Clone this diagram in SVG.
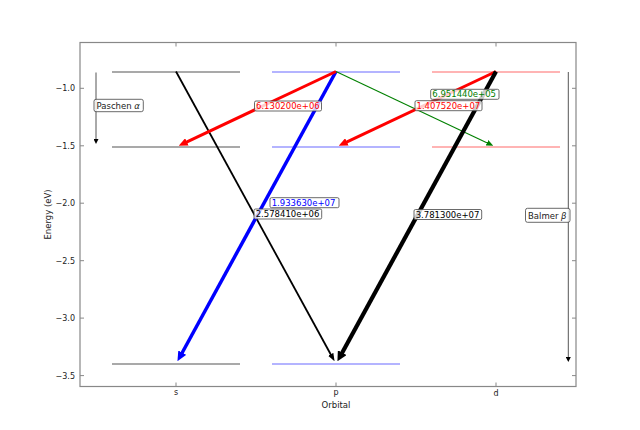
<svg xmlns="http://www.w3.org/2000/svg" width="640" height="430" viewBox="0 0 640 430">
<style>
text{font-family:"DejaVu Sans","Liberation Sans",sans-serif;fill:#222}
.tick{font-size:8px}
.axlab{font-size:8.5px}
.lab{font-size:8.5px}
.spine{fill:none;stroke:#888;stroke-width:1.2}
.tk{stroke:#888;stroke-width:1}
.ls{stroke:#555;stroke-width:1.2}
.lp{stroke:#6a6aff;stroke-width:1.2}
.ld{stroke:#ff6a6a;stroke-width:1.2}
.box{fill:#fff;fill-opacity:0.8;stroke:#444;stroke-width:0.8}
</style>
<defs>
<marker id="hBK" markerUnits="userSpaceOnUse" markerWidth="10" markerHeight="10" viewBox="0 -5 10 10" refX="1" refY="0" orient="auto"><path d="M0,-5L10,0L0,5Z" fill="#000"/></marker>
<marker id="hBL" markerUnits="userSpaceOnUse" markerWidth="10" markerHeight="9" viewBox="0 -4.5 10 9" refX="1" refY="0" orient="auto"><path d="M0,-4.5L10,0L0,4.5Z" fill="#0000ff"/></marker>
<marker id="hR" markerUnits="userSpaceOnUse" markerWidth="9" markerHeight="8" viewBox="0 -4 9 8" refX="1" refY="0" orient="auto"><path d="M0,-4L9,0L0,4Z" fill="#ff0000"/></marker>
<marker id="hK" markerUnits="userSpaceOnUse" markerWidth="8" markerHeight="6" viewBox="0 -3 8 6" refX="1" refY="0" orient="auto"><path d="M0,-3L8,0L0,3Z" fill="#000"/></marker>
<marker id="hG" markerUnits="userSpaceOnUse" markerWidth="7" markerHeight="6" viewBox="0 -3 7 6" refX="1" refY="0" orient="auto"><path d="M0,-3L7,0L0,3Z" fill="#008000"/></marker>
<marker id="hS" markerUnits="userSpaceOnUse" markerWidth="5" markerHeight="5" viewBox="0 -2.5 5 5" refX="1" refY="0" orient="auto"><path d="M0,-2.5L5,0L0,2.5Z" fill="#000"/></marker>
</defs>
<rect width="640" height="430" fill="#fff"/>

<g id="axes">
<rect class="spine" x="80" y="42.5" width="496" height="344"/>
<g class="tk">
<line x1="80" y1="88.3" x2="84" y2="88.3"/><line x1="80" y1="145.8" x2="84" y2="145.8"/><line x1="80" y1="203.2" x2="84" y2="203.2"/><line x1="80" y1="260.7" x2="84" y2="260.7"/><line x1="80" y1="318.1" x2="84" y2="318.1"/><line x1="80" y1="375.6" x2="84" y2="375.6"/>
<line x1="576" y1="88.3" x2="572" y2="88.3"/><line x1="576" y1="145.8" x2="572" y2="145.8"/><line x1="576" y1="203.2" x2="572" y2="203.2"/><line x1="576" y1="260.7" x2="572" y2="260.7"/><line x1="576" y1="318.1" x2="572" y2="318.1"/><line x1="576" y1="375.6" x2="572" y2="375.6"/>
<line x1="176" y1="386.5" x2="176" y2="382.5"/><line x1="336" y1="386.5" x2="336" y2="382.5"/><line x1="496" y1="386.5" x2="496" y2="382.5"/>
<line x1="176" y1="42.5" x2="176" y2="46.5"/><line x1="336" y1="42.5" x2="336" y2="46.5"/><line x1="496" y1="42.5" x2="496" y2="46.5"/>
</g>
<g class="tick" text-anchor="end">
<text x="75" y="91.2">−1.0</text><text x="75" y="148.7">−1.5</text><text x="75" y="206.1">−2.0</text><text x="75" y="263.6">−2.5</text><text x="75" y="321">−3.0</text><text x="75" y="378.5">−3.5</text>
</g>
<g class="tick" text-anchor="middle">
<text x="176" y="395">s</text><text x="336" y="394.5">p</text><text x="496" y="395.5">d</text>
</g>
<text class="axlab" x="336" y="408" text-anchor="middle">Orbital</text>
<text class="axlab" transform="translate(51,214.5) rotate(-90)" text-anchor="middle">Energy (eV)</text>
</g>

<g id="level-s">
<line class="ls" x1="112" y1="72" x2="240" y2="72"/>
<line class="ls" x1="112" y1="147" x2="240" y2="147"/>
<line class="ls" x1="112" y1="364" x2="240" y2="364"/>
</g>
<g id="level-p">
<line class="lp" x1="272" y1="72" x2="400" y2="72"/>
<line class="lp" x1="272" y1="147" x2="400" y2="147"/>
<line class="lp" x1="272" y1="364" x2="400" y2="364"/>
</g>
<g id="level-d">
<line class="ld" x1="432" y1="72" x2="560" y2="72"/>
<line class="ld" x1="432" y1="147" x2="560" y2="147"/>
</g>

<g id="connectors" fill="none">
<line x1="96" y1="72.5" x2="96" y2="140" stroke="#555" stroke-width="1" marker-end="url(#hS)"/>
<line x1="568.3" y1="72" x2="568.3" y2="358" stroke="#555" stroke-width="1" marker-end="url(#hS)"/>
<line x1="176" y1="71.5" x2="331.2" y2="355.2" stroke="#000" stroke-width="1.8" marker-end="url(#hK)"/>
<line x1="336" y1="71.5" x2="181.76" y2="353.47" stroke="#0000ff" stroke-width="3.5" marker-end="url(#hBL)"/>
<line x1="336" y1="71.5" x2="185.95" y2="142.31" stroke="#ff0000" stroke-width="3" marker-end="url(#hR)"/>
<line x1="336" y1="71.5" x2="487.86" y2="143.16" stroke="#008000" stroke-width="1.1" marker-end="url(#hG)"/>
<line x1="496" y1="71.5" x2="345.95" y2="142.31" stroke="#ff0000" stroke-width="3" marker-end="url(#hR)"/>
<line x1="496" y1="71.5" x2="341.76" y2="353.47" stroke="#000" stroke-width="4.2" marker-end="url(#hBK)"/>
</g>

<g id="label-paschen">
<rect class="box" x="94" y="99.3" width="49.3" height="12.4" rx="2"/>
<text class="lab" x="96.5" y="108.7">Paschen <tspan font-style="italic">α</tspan></text>
</g>
<g id="label-balmer">
<rect class="box" x="525.5" y="208.3" width="44.5" height="14" rx="2"/>
<text class="lab" x="528" y="218.5">Balmer <tspan font-style="italic">β</tspan></text>
</g>
<g id="label-r1">
<rect class="box" x="254.5" y="101" width="67" height="10" rx="1.5"/>
<text class="lab" x="256" y="109" style="fill:#ff0000">6.130200e+06</text>
</g>
<g id="label-r2">
<rect class="box" x="415" y="100.7" width="67" height="10" rx="1.5"/>
<text class="lab" x="416.5" y="108.7" style="fill:#ff0000">1.407520e+07</text>
</g>
<g id="label-g">
<rect class="box" x="430.7" y="89.3" width="68.3" height="10" rx="1.5"/>
<text class="lab" x="432.3" y="97.3" style="fill:#008000">6.951440e+05</text>
</g>
<g id="label-b">
<rect class="box" x="270" y="197.7" width="69" height="10" rx="1.5"/>
<text class="lab" x="271.7" y="205.7" style="fill:#0000ff">1.933630e+07</text>
</g>
<g id="label-k1">
<rect class="box" x="254" y="209" width="67.7" height="10" rx="1.5"/>
<text class="lab" x="255.7" y="217" style="fill:#000">2.578410e+06</text>
</g>
<g id="label-k2">
<rect class="box" x="414" y="209.5" width="67.7" height="10" rx="1.5"/>
<text class="lab" x="415.7" y="217.5" style="fill:#000">3.781300e+07</text>
</g>
</svg>
